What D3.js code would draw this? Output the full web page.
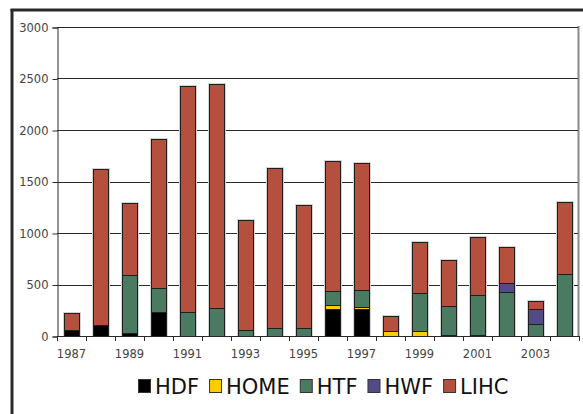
<!DOCTYPE html>
<html><head><meta charset="utf-8">
<script src="https://cdn.jsdelivr.net/npm/d3@7"></script>
<style>body{margin:0;background:#fff} svg{display:block}</style>
</head><body><svg id="c" width="583" height="414"></svg>
<script>
const years = [1987,1988,1989,1990,1991,1992,1993,1994,1995,1996,1997,1998,1999,2000,2001,2002,2003,2004];
const HDF  = [55,110,30,230,0,0,0,0,0,265,265,0,0,10,10,0,0,0];
const HOME = [0,0,0,0,0,0,0,0,0,40,15,45,45,0,0,0,0,0];
const HTF  = [0,0,560,240,230,270,60,80,75,130,165,0,370,285,385,425,115,605];
const HWF  = [0,0,0,0,0,0,0,0,0,0,0,0,0,0,0,85,150,0];
const LIHC = [165,1510,700,1440,2200,2180,1065,1550,1195,1265,1235,145,500,445,565,350,70,700];
const seriesNames = ["HDF","HOME","HTF","HWF","LIHC"];
const seriesColors = ["#000000","#FFCC00","#4A7A62","#524B87","#B5503F"];
const yTicks = [0,500,1000,1500,2000,2500,3000];
const xTickLabels = ["1987","1989","1991","1993","1995","1997","1999","2001","2003"];

const svg = d3.select("#c");
const W = 583, H = 414;
const m = {left:57, right:579, top:27, bottom:336};

const table = years.map((y,i)=>({year:String(y),HDF:HDF[i],HOME:HOME[i],HTF:HTF[i],HWF:HWF[i],LIHC:LIHC[i]}));
const stacked = d3.stack().keys(seriesNames)(table);

const x = d3.scaleBand().domain(years.map(String)).range([m.left,m.right]).paddingInner(0.48).paddingOuter(0.24);
const y = d3.scaleLinear().domain([0,3000]).range([m.bottom,m.top]);

// outer frame
svg.append("line").attr("x1",12).attr("x2",12).attr("y1",9).attr("y2",H).attr("stroke","#2a2a2a").attr("stroke-width",3);
svg.append("line").attr("x1",10.5).attr("x2",W).attr("y1",10).attr("y2",10).attr("stroke","#2a2a2a").attr("stroke-width",3);

// plot right border (gray)
svg.append("line").attr("x1",m.right-0.5).attr("x2",m.right-0.5).attr("y1",m.top-1).attr("y2",m.bottom)
  .attr("stroke","#8a8a8a").attr("stroke-width",2);

// gridlines
svg.append("g").selectAll("line").data(yTicks.filter(d=>d>0)).join("line")
  .attr("x1",m.left).attr("x2",m.right-1)
  .attr("y1",d=>Math.round(y(d))+0.5).attr("y2",d=>Math.round(y(d))+0.5)
  .attr("stroke","#2a2a2a").attr("stroke-width",1);

// bars
const shadow = svg.append("g");
table.forEach((d,i)=>{
  const tot = HDF[i]+HOME[i]+HTF[i]+HWF[i]+LIHC[i];
  shadow.append("rect")
    .attr("x",Math.round(x(d.year))-1).attr("y",Math.round(y(tot))-1)
    .attr("width",Math.round(x.bandwidth())+3).attr("height",Math.round(y(0))-Math.round(y(tot))+1)
    .attr("fill","#d4d4d4");
});
const gBars = svg.append("g");
stacked.forEach((s,k)=>{
  gBars.append("g").attr("fill",seriesColors[k]).selectAll("rect")
    .data(s.filter(p=>p[1]-p[0]>0)).join("rect")
    .attr("x",p=>Math.round(x(p.data.year))+0.5)
    .attr("y",p=>Math.round(y(p[1]))+0.5)
    .attr("width",Math.round(x.bandwidth()))
    .attr("height",p=>Math.max(1,Math.round(y(p[0]))-Math.round(y(p[1]))))
    .attr("stroke","#1e1e1e").attr("stroke-width",1);
});

// y axis
const yAxis = d3.axisLeft(y).tickValues(yTicks).tickSize(5).tickPadding(4).tickFormat(d3.format("d"));
const gy = svg.append("g").attr("transform",`translate(${m.left+0.5},0.5)`).call(yAxis);
gy.select(".domain").attr("stroke","#2a2a2a");
gy.selectAll(".tick line").attr("stroke","#2a2a2a");
gy.selectAll("text").attr("font-family","DejaVu Sans, Verdana, sans-serif").attr("font-size",11.5).attr("fill","#444");

// x axis with ticks at band boundaries
const xAxisLine = svg.append("g");
xAxisLine.append("line").attr("x1",m.left).attr("x2",m.right).attr("y1",m.bottom+0.5).attr("y2",m.bottom+0.5).attr("stroke","#2a2a2a");
const step = x.step();
const bounds = d3.range(years.length+1).map(i=>x(String(years[0]))-x.paddingOuter()*step + i*step);
xAxisLine.selectAll(".tk").data(bounds).join("line").attr("class","tk")
  .attr("x1",d=>Math.round(d)+0.5).attr("x2",d=>Math.round(d)+0.5)
  .attr("y1",m.bottom).attr("y2",m.bottom+5).attr("stroke","#2a2a2a");
svg.append("g").selectAll("text").data(xTickLabels).join("text")
  .attr("x",d=>x(d)+x.bandwidth()/2).attr("y",358)
  .attr("text-anchor","middle")
  .attr("font-family","DejaVu Sans, Verdana, sans-serif").attr("font-size",11.5).attr("fill","#444")
  .text(d=>d);

// legend
const lg = svg.append("g");
const fs = 21;
const gapIn = 17, gapOut = 10;
let cx = 0;
seriesNames.forEach((n,k)=>{
  const it = lg.append("g");
  it.append("rect").attr("x",0.5).attr("y",-14.5).attr("width",12).attr("height",13)
    .attr("fill",seriesColors[k]).attr("stroke","#333").attr("stroke-width",1);
  const t = it.append("text").attr("x",gapIn).attr("y",0).attr("font-family","DejaVu Sans, Verdana, sans-serif")
    .attr("font-size",fs).attr("fill","#111").text(n);
  const w = gapIn + t.node().getComputedTextLength();
  it.attr("transform",`translate(${cx},0)`);
  cx += w + gapOut;
});
const totalW = cx - gapOut;
lg.attr("transform",`translate(${Math.round(323-totalW/2)},394)`);
</script></body></html>
